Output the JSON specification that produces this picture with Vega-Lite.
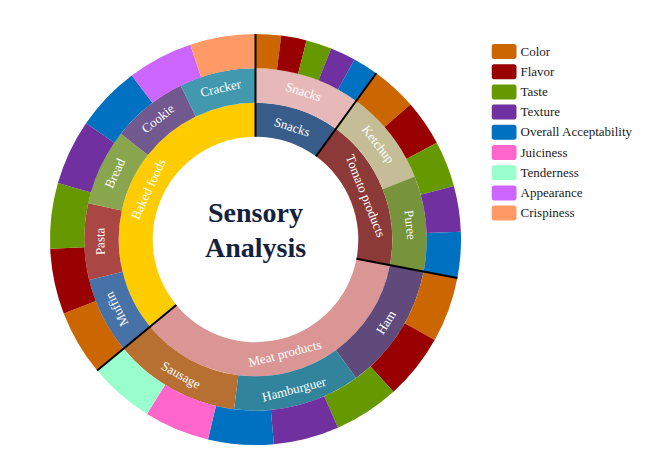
{
  "$schema": "https://vega.github.io/schema/vega-lite/v6.json",
  "width": 511,
  "height": 465,
  "padding": {"top": 7, "left": 0, "right": 0, "bottom": 0},
  "autosize": {"type": "pad"},
  "background": "white",
  "datasets": {
    "inner": [
      {"cat": "Snacks", "v": 5, "k": 1},
      {"cat": "Tomato products", "v": 9, "k": 2},
      {"cat": "Meat products", "v": 18, "k": 3},
      {"cat": "Baked foods", "v": 18, "k": 4}
    ],
    "middle": [
      {"cat": "Snacks", "sub": "Snacks", "v": 5, "k": 1},
      {"cat": "Tomato products", "sub": "Ketchup", "v": 4.5, "k": 2},
      {"cat": "Tomato products", "sub": "Puree", "v": 4.5, "k": 3},
      {"cat": "Meat products", "sub": "Ham", "v": 6, "k": 4},
      {"cat": "Meat products", "sub": "Hamburguer", "v": 6, "k": 5},
      {"cat": "Meat products", "sub": "Sausage", "v": 6, "k": 6},
      {"cat": "Baked foods", "sub": "Muffin", "v": 3.6, "k": 7},
      {"cat": "Baked foods", "sub": "Pasta", "v": 3.6, "k": 8},
      {"cat": "Baked foods", "sub": "Bread", "v": 3.6, "k": 9},
      {"cat": "Baked foods", "sub": "Cookie", "v": 3.6, "k": 10},
      {"cat": "Baked foods", "sub": "Cracker", "v": 3.6, "k": 11}
    ],
    "outer": [
      {"cat": "Snacks", "attr": "Color", "v": 1, "k": 1},
      {"cat": "Snacks", "attr": "Flavor", "v": 1, "k": 2},
      {"cat": "Snacks", "attr": "Taste", "v": 1, "k": 3},
      {"cat": "Snacks", "attr": "Texture", "v": 1, "k": 4},
      {"cat": "Snacks", "attr": "Overall Acceptability", "v": 1, "k": 5},
      {"cat": "Tomato products", "attr": "Color", "v": 1.8, "k": 6},
      {"cat": "Tomato products", "attr": "Flavor", "v": 1.8, "k": 7},
      {"cat": "Tomato products", "attr": "Taste", "v": 1.8, "k": 8},
      {"cat": "Tomato products", "attr": "Texture", "v": 1.8, "k": 9},
      {"cat": "Tomato products", "attr": "Overall Acceptability", "v": 1.8, "k": 10},
      {"cat": "Meat products", "attr": "Color", "v": 2.5714286, "k": 11},
      {"cat": "Meat products", "attr": "Flavor", "v": 2.5714286, "k": 12},
      {"cat": "Meat products", "attr": "Taste", "v": 2.5714286, "k": 13},
      {"cat": "Meat products", "attr": "Texture", "v": 2.5714286, "k": 14},
      {"cat": "Meat products", "attr": "Overall Acceptability", "v": 2.5714286, "k": 15},
      {"cat": "Meat products", "attr": "Juiciness", "v": 2.5714286, "k": 16},
      {"cat": "Meat products", "attr": "Tenderness", "v": 2.5714286, "k": 17},
      {"cat": "Baked foods", "attr": "Color", "v": 2.5714286, "k": 18},
      {"cat": "Baked foods", "attr": "Flavor", "v": 2.5714286, "k": 19},
      {"cat": "Baked foods", "attr": "Taste", "v": 2.5714286, "k": 20},
      {"cat": "Baked foods", "attr": "Texture", "v": 2.5714286, "k": 21},
      {"cat": "Baked foods", "attr": "Overall Acceptability", "v": 2.5714286, "k": 22},
      {"cat": "Baked foods", "attr": "Appearance", "v": 2.5714286, "k": 23},
      {"cat": "Baked foods", "attr": "Crispiness", "v": 2.5714286, "k": 24}
    ],
    "bounds": [
      {"b": 0},
      {"b": 5},
      {"b": 14},
      {"b": 32}
    ],
    "title": [
      {"t": "Sensory Analysis"}
    ]
  },
  "layer": [
    {
      "data": {"name": "inner"},
      "transform": [
        {"stack": "v", "groupby": [], "sort": [{"field": "k", "order": "ascending"}], "as": ["s0", "s1"]}
      ],
      "mark": {"type": "arc", "radius": 136.8, "radius2": 102.8, "strokeWidth": 0},
      "encoding": {
        "theta": {"field": "s0", "type": "quantitative", "stack": null, "scale": {"domain": [0, 50]}},
        "theta2": {"field": "s1"},
        "color": {
          "field": "cat", "type": "nominal", "legend": null,
          "scale": {
            "domain": ["Snacks", "Tomato products", "Meat products", "Baked foods"],
            "range": ["#385D8A", "#8C3A37", "#D99694", "#FFCC00"]
          }
        }
      }
    },
    {
      "data": {"name": "middle"},
      "transform": [
        {"stack": "v", "groupby": [], "sort": [{"field": "k", "order": "ascending"}], "as": ["s0", "s1"]}
      ],
      "mark": {"type": "arc", "radius": 171.2, "radius2": 136.8, "strokeWidth": 0},
      "encoding": {
        "theta": {"field": "s0", "type": "quantitative", "stack": null, "scale": {"domain": [0, 50]}},
        "theta2": {"field": "s1"},
        "color": {
          "field": "sub", "type": "nominal", "legend": null,
          "scale": {
            "domain": ["Snacks", "Ketchup", "Puree", "Ham", "Hamburguer", "Sausage", "Muffin", "Pasta", "Bread", "Cookie", "Cracker"],
            "range": ["#E6B9B8", "#C4BD97", "#77933C", "#604A7B", "#31849B", "#B86F32", "#4672A8", "#AA4643", "#89A54E", "#71588F", "#4198AF"]
          }
        }
      }
    },
    {
      "data": {"name": "outer"},
      "transform": [
        {"stack": "v", "groupby": [], "sort": [{"field": "k", "order": "ascending"}], "as": ["s0", "s1"]}
      ],
      "mark": {"type": "arc", "radius": 205.5, "radius2": 171.2, "strokeWidth": 0},
      "encoding": {
        "theta": {"field": "s0", "type": "quantitative", "stack": null, "scale": {"domain": [0, 50]}},
        "theta2": {"field": "s1"},
        "color": {
          "field": "attr", "type": "nominal",
          "scale": {
            "domain": ["Color", "Flavor", "Taste", "Texture", "Overall Acceptability", "Juiciness", "Tenderness", "Appearance", "Crispiness"],
            "range": ["#CC6600", "#990000", "#669900", "#7030A0", "#0070C0", "#FF66CC", "#99FFCC", "#CC66FF", "#FF9966"]
          },
          "legend": {
            "orient": "none",
            "legendX": 491.5,
            "legendY": 34.5,
            "title": null,
            "symbolType": "M-0.8,-0.6H0.8A0.2,0.2,0,0,1,1,-0.4V0.4A0.2,0.2,0,0,1,0.8,0.6H-0.8A0.2,0.2,0,0,1,-1,0.4V-0.4A0.2,0.2,0,0,1,-0.8,-0.6Z",
            "symbolSize": 625,
            "symbolStrokeWidth": 0,
            "symbolOpacity": 1,
            "labelFont": "Liberation Serif",
            "labelFontSize": 13,
            "labelColor": "#1a1a1a",
            "labelOffset": 4,
            "clipHeight": 20,
            "rowPadding": 0.2,
            "padding": 0
          }
        }
      }
    },
    {
      "data": {"name": "bounds"},
      "mark": {"type": "arc", "radius": 205.5, "radius2": 102.8, "stroke": "#000000", "strokeWidth": 2},
      "encoding": {
        "theta": {"field": "b", "type": "quantitative", "stack": null, "scale": {"domain": [0, 50]}},
        "theta2": {"field": "b"}
      }
    },
    {
      "data": {"name": "middle"},
      "transform": [
        {"stack": "v", "groupby": [], "sort": [{"field": "k", "order": "ascending"}], "as": ["s0", "s1"]},
        {"fold": ["s0", "s1"], "as": ["key", "pos"]},
        {"aggregate": [{"op": "mean", "field": "pos", "as": "mid"}], "groupby": ["sub"]},
        {"filter": "datum.mid < 12.5 || datum.mid > 32.5"}
      ],
      "mark": {"type": "text", "radius": 155, "font": "Liberation Serif", "fontSize": 13, "color": "#ffffff", "baseline": "middle", "align": "center"},
      "encoding": {
        "theta": {"field": "mid", "type": "quantitative", "scale": {"domain": [0, 50]}},
        "angle": {"field": "mid", "type": "quantitative", "scale": {"domain": [0, 50], "range": [0, 360]}},
        "text": {"field": "sub"}
      }
    },
    {
      "data": {"name": "middle"},
      "transform": [
        {"stack": "v", "groupby": [], "sort": [{"field": "k", "order": "ascending"}], "as": ["s0", "s1"]},
        {"fold": ["s0", "s1"], "as": ["key", "pos"]},
        {"aggregate": [{"op": "mean", "field": "pos", "as": "mid"}], "groupby": ["sub"]},
        {"filter": "datum.mid >= 12.5 && datum.mid <= 32.5"}
      ],
      "mark": {"type": "text", "radius": 155, "font": "Liberation Serif", "fontSize": 13, "color": "#ffffff", "baseline": "middle", "align": "center"},
      "encoding": {
        "theta": {"field": "mid", "type": "quantitative", "scale": {"domain": [0, 50]}},
        "angle": {"field": "mid", "type": "quantitative", "scale": {"domain": [0, 50], "range": [-180, 180]}},
        "text": {"field": "sub"}
      }
    },
    {
      "data": {"name": "inner"},
      "transform": [
        {"stack": "v", "groupby": [], "sort": [{"field": "k", "order": "ascending"}], "as": ["s0", "s1"]},
        {"fold": ["s0", "s1"], "as": ["key", "pos"]},
        {"aggregate": [{"op": "mean", "field": "pos", "as": "mid"}], "groupby": ["cat"]},
        {"filter": "datum.mid < 12.5 || datum.mid > 32.5"}
      ],
      "mark": {"type": "text", "radius": 118, "font": "Liberation Serif", "fontSize": 13, "color": "#ffffff", "baseline": "middle", "align": "center"},
      "encoding": {
        "theta": {"field": "mid", "type": "quantitative", "scale": {"domain": [0, 50]}},
        "angle": {"field": "mid", "type": "quantitative", "scale": {"domain": [0, 50], "range": [0, 360]}},
        "text": {"field": "cat"}
      }
    },
    {
      "data": {"name": "inner"},
      "transform": [
        {"stack": "v", "groupby": [], "sort": [{"field": "k", "order": "ascending"}], "as": ["s0", "s1"]},
        {"fold": ["s0", "s1"], "as": ["key", "pos"]},
        {"aggregate": [{"op": "mean", "field": "pos", "as": "mid"}], "groupby": ["cat"]},
        {"filter": "datum.mid >= 12.5 && datum.mid <= 32.5"}
      ],
      "mark": {"type": "text", "radius": 118, "font": "Liberation Serif", "fontSize": 13, "color": "#ffffff", "baseline": "middle", "align": "center"},
      "encoding": {
        "theta": {"field": "mid", "type": "quantitative", "scale": {"domain": [0, 50]}},
        "angle": {"field": "mid", "type": "quantitative", "scale": {"domain": [0, 50], "range": [-180, 180]}},
        "text": {"field": "cat"}
      }
    },
    {
      "data": {"name": "title"},
      "mark": {"type": "text", "font": "Liberation Serif", "fontWeight": "bold", "fontSize": 28, "color": "#14213D", "baseline": "middle", "align": "center", "lineBreak": " ", "lineHeight": 34.5, "dy": -25.3},
      "encoding": {
        "text": {"field": "t"}
      }
    }
  ],
  "resolve": {"scale": {"color": "independent", "angle": "independent"}},
  "config": {
    "view": {"stroke": null},
    "legend": {"labelFont": "Liberation Serif", "labelFontSize": 13}
  }
}
